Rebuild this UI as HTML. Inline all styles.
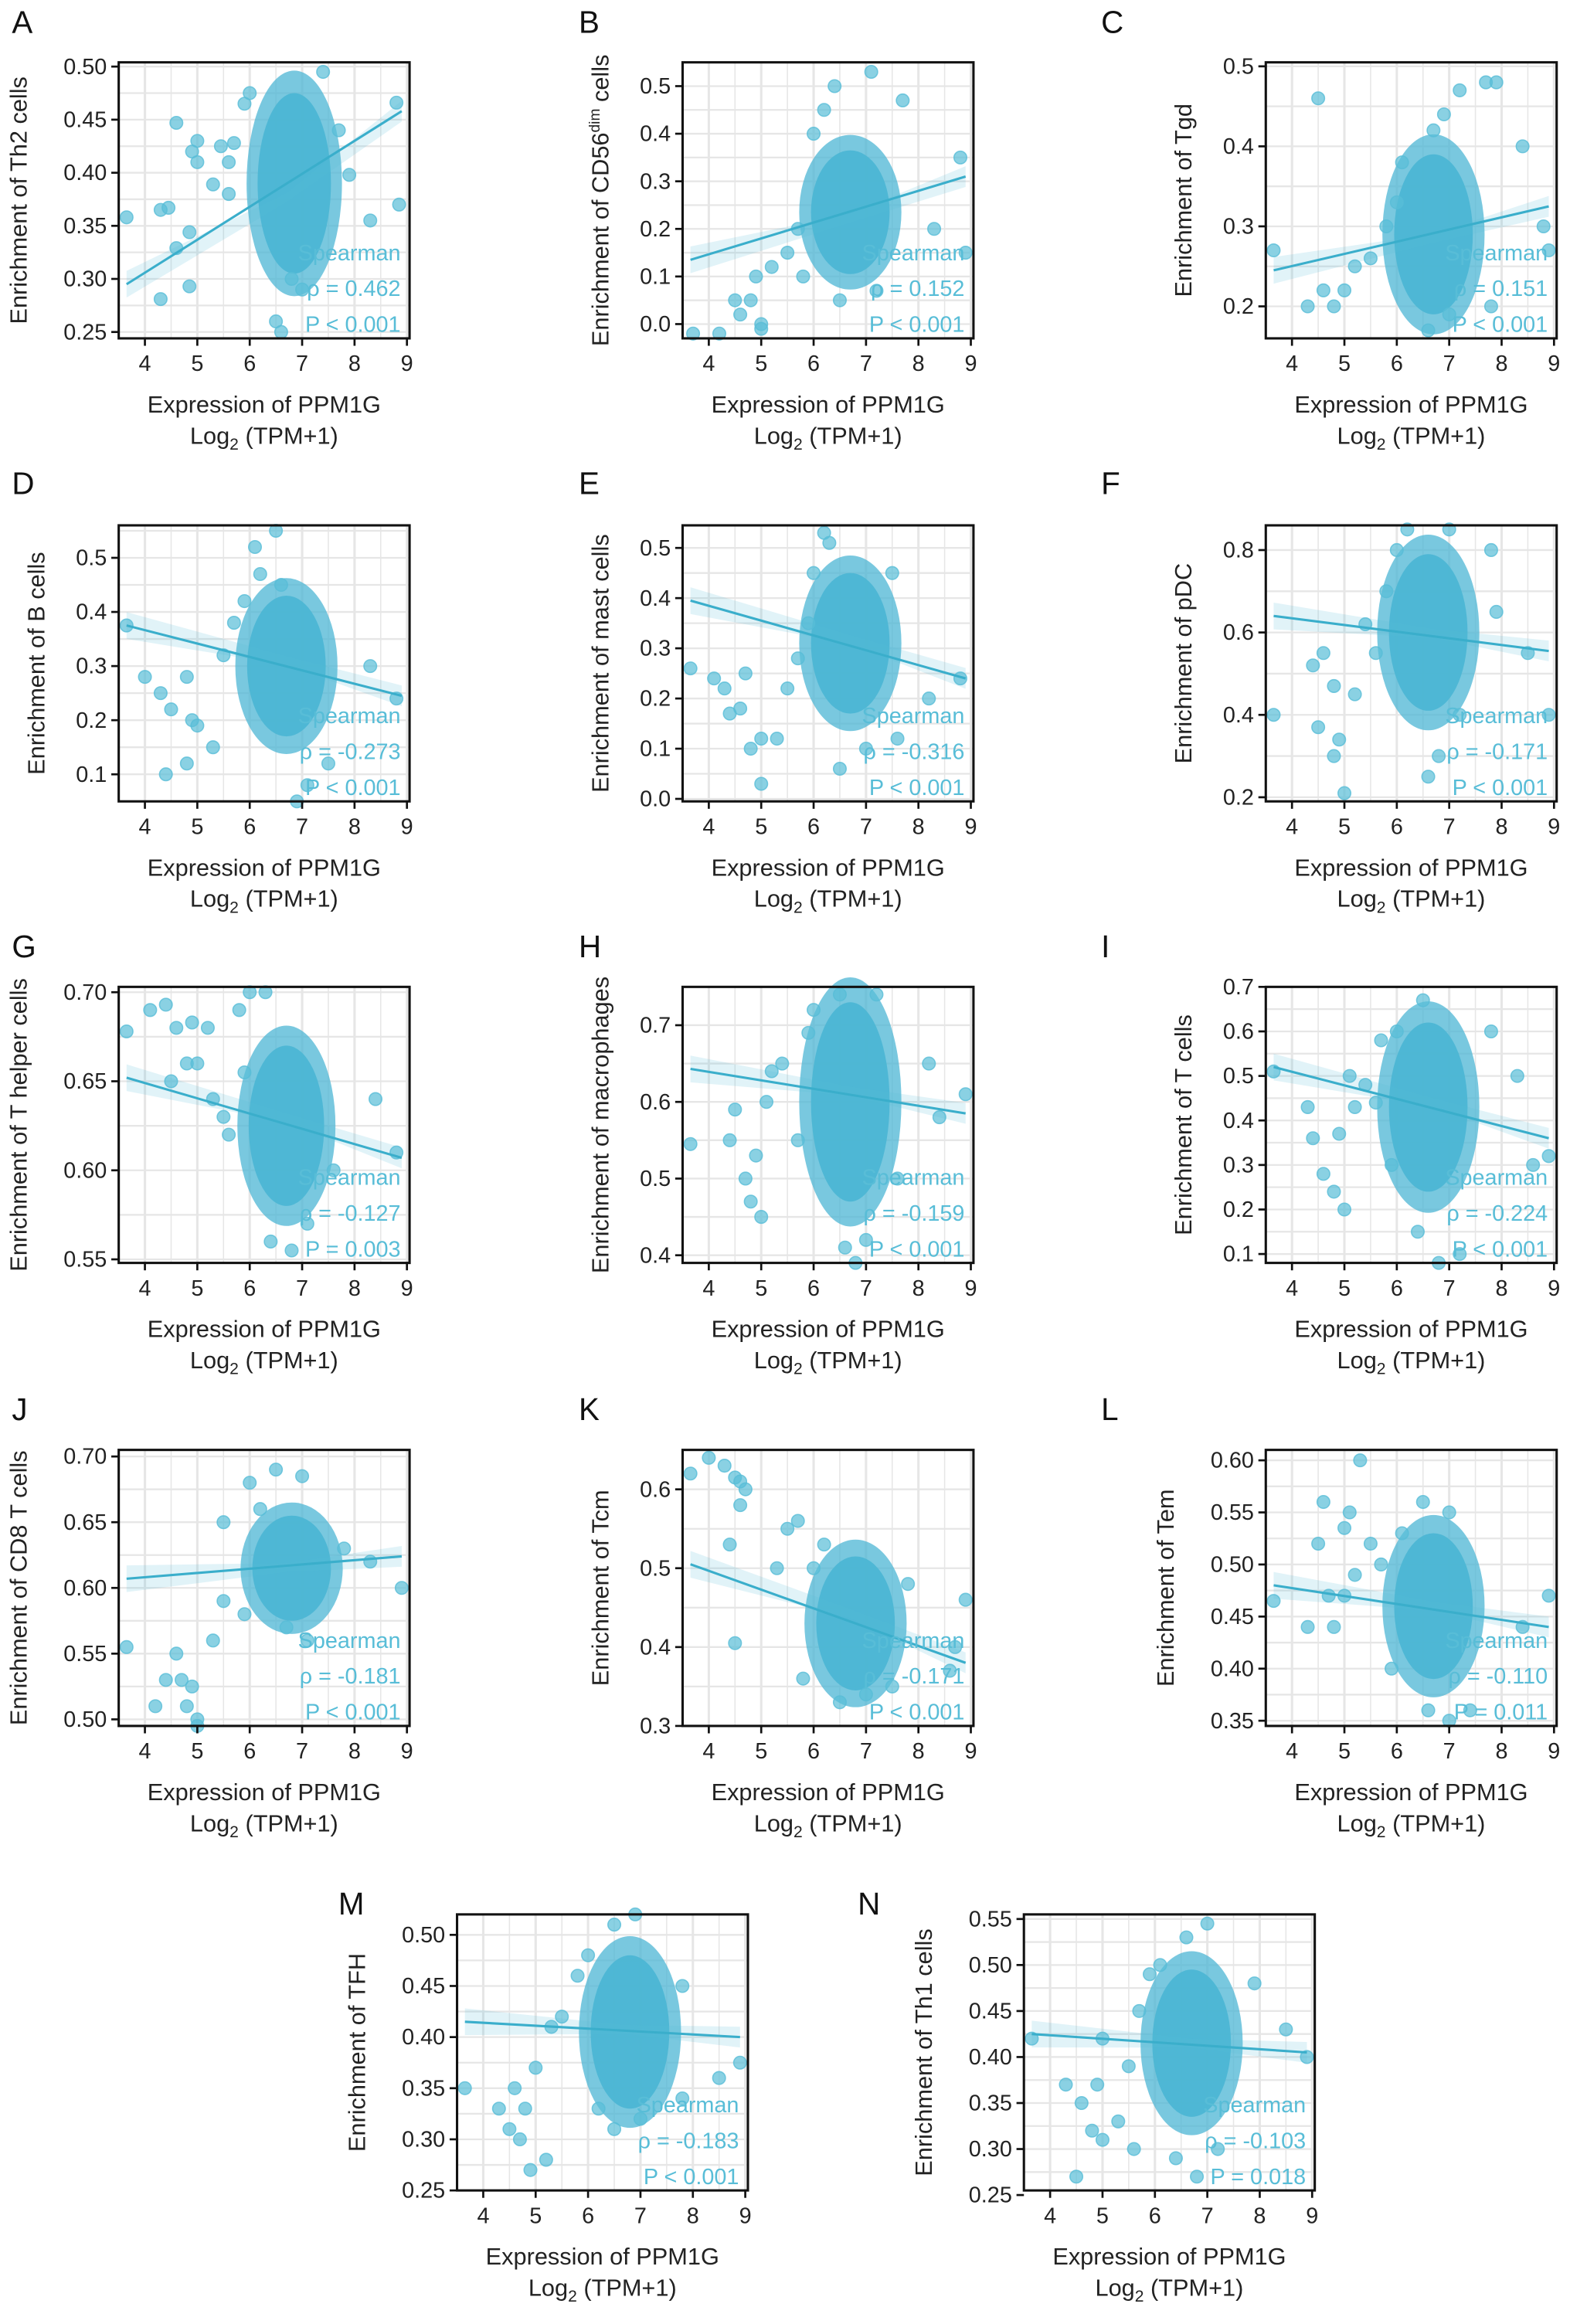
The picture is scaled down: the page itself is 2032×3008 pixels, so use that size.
<!DOCTYPE html>
<html><head><meta charset="utf-8"><style>
html,body{margin:0;padding:0;background:#fff}
svg{display:block}
text{font-family:"Liberation Sans",Arial,sans-serif}
</style></head><body>
<svg id="fig" width="2032" height="3008" viewBox="0 0 1058 1566" preserveAspectRatio="none" xmlns="http://www.w3.org/2000/svg"></svg>
<script>
const panelLetters=["A","B","C","D","E","F","G","H","I","J","K","L","M","N"];
const yTitles=["Enrichment of Th2 cells","Enrichment of CD56dim cells","Enrichment of Tgd","Enrichment of B cells","Enrichment of mast cells","Enrichment of pDC","Enrichment of T helper cells","Enrichment of macrophages","Enrichment of T cells","Enrichment of CD8 T cells","Enrichment of Tcm","Enrichment of Tem","Enrichment of TFH","Enrichment of Th1 cells"];
const rhoLabels=["ρ = 0.462","ρ = 0.152","ρ = 0.151","ρ = -0.273","ρ = -0.316","ρ = -0.171","ρ = -0.127","ρ = -0.159","ρ = -0.224","ρ = -0.181","ρ = -0.171","ρ = -0.110","ρ = -0.183","ρ = -0.103"];
const pLabels=["P < 0.001","P < 0.001","P < 0.001","P < 0.001","P < 0.001","P < 0.001","P = 0.003","P < 0.001","P < 0.001","P < 0.001","P < 0.001","P = 0.011","P < 0.001","P = 0.018"];
const xTicks=[4,5,6,7,8,9];
const yDomains=[[0.244,0.504],[-0.03,0.55],[0.16,0.505],[0.05,0.56],[-0.005,0.545],[0.19,0.86],[0.548,0.703],[0.39,0.75],[0.08,0.7],[0.495,0.705],[0.3,0.65],[0.345,0.61],[0.25,0.52],[0.255,0.555]];
const yTickSets=[
["0.25","0.30","0.35","0.40","0.45","0.50"],["0.0","0.1","0.2","0.3","0.4","0.5"],["0.2","0.3","0.4","0.5"],
["0.1","0.2","0.3","0.4","0.5"],["0.0","0.1","0.2","0.3","0.4","0.5"],["0.2","0.4","0.6","0.8"],
["0.55","0.60","0.65","0.70"],["0.4","0.5","0.6","0.7"],["0.1","0.2","0.3","0.4","0.5","0.6","0.7"],
["0.50","0.55","0.60","0.65","0.70"],["0.3","0.4","0.5","0.6"],["0.35","0.40","0.45","0.50","0.55","0.60"],
["0.25","0.30","0.35","0.40","0.45","0.50"],["0.25","0.30","0.35","0.40","0.45","0.50","0.55"]];
const fitStart=[0.295,0.135,0.245,0.375,0.395,0.64,0.652,0.643,0.52,0.607,0.505,0.48,0.415,0.425];
const fitEnd=[0.458,0.31,0.325,0.245,0.24,0.555,0.607,0.585,0.36,0.624,0.38,0.44,0.40,0.405];
const clouds=[[6.85,0.39,0.7,0.085],[6.7,0.235,0.75,0.13],[6.7,0.29,0.75,0.1],[6.7,0.3,0.75,0.13],[6.7,0.31,0.75,0.14],[6.6,0.6,0.75,0.19],[6.7,0.625,0.72,0.045],[6.7,0.6,0.75,0.13],[6.6,0.43,0.75,0.19],[6.8,0.615,0.75,0.04],[6.8,0.43,0.75,0.085],[6.7,0.46,0.75,0.07],[6.8,0.405,0.75,0.075],[6.7,0.415,0.75,0.08]];
const points=[
[[3.65,.358],[4.3,.365],[4.45,.367],[4.3,.281],[4.6,.447],[4.85,.293],[4.6,.329],[4.85,.344],[4.9,.42],[5.0,.41],[5.0,.43],[5.3,.389],[5.45,.425],[5.6,.41],[5.7,.428],[5.6,.38],[5.9,.465],[6.0,.475],[8.3,.355],[8.85,.37],[8.8,.466],[7.9,.398],[6.5,.26],[6.6,.25],[7.4,.495],[6.8,.3],[7.0,.29],[7.7,.44]],
[[3.7,-.02],[4.2,-.02],[4.5,.05],[4.6,.02],[4.8,.05],[5.0,0],[5.0,-.01],[4.9,.1],[5.2,.12],[5.5,.15],[5.7,.2],[6.0,.4],[6.2,.45],[7.1,.53],[6.4,.5],[7.7,.47],[8.8,.35],[8.9,.15],[8.3,.2],[6.5,.05],[7.2,.07],[5.8,.1]],
[[3.65,.27],[4.5,.46],[4.3,.2],[4.6,.22],[4.8,.2],[5.0,.22],[5.2,.25],[5.5,.26],[5.8,.3],[6.0,.33],[6.1,.38],[6.7,.42],[7.2,.47],[7.7,.48],[7.9,.48],[6.9,.44],[8.8,.3],[8.9,.27],[6.6,.17],[7.0,.19],[7.8,.2],[8.4,.4]],
[[3.65,.375],[4.0,.28],[4.3,.25],[4.5,.22],[4.8,.28],[4.9,.2],[5.0,.19],[5.3,.15],[4.4,.1],[4.8,.12],[5.5,.32],[5.7,.38],[5.9,.42],[6.1,.52],[6.2,.47],[6.5,.55],[8.8,.24],[8.3,.3],[7.1,.08],[6.9,.05],[7.5,.12],[6.6,.45]],
[[3.65,.26],[4.1,.24],[4.3,.22],[4.4,.17],[4.6,.18],[4.8,.1],[5.0,.12],[5.0,.03],[5.3,.12],[4.7,.25],[5.5,.22],[5.7,.28],[5.9,.35],[6.0,.45],[6.2,.53],[6.3,.51],[8.8,.24],[6.5,.06],[7.0,.1],[7.6,.12],[8.2,.2],[7.5,.45]],
[[3.65,.4],[4.4,.52],[4.5,.37],[4.6,.55],[4.8,.3],[4.8,.47],[5.0,.21],[4.9,.34],[5.2,.45],[5.6,.55],[5.8,.7],[6.0,.8],[6.2,.85],[7.0,.85],[7.8,.8],[8.5,.55],[8.9,.4],[6.8,.3],[7.2,.4],[6.6,.25],[5.4,.62],[7.9,.65]],
[[3.65,.678],[4.1,.69],[4.4,.693],[4.6,.68],[4.8,.66],[4.9,.683],[5.0,.66],[5.2,.68],[4.5,.65],[5.3,.64],[5.5,.63],[5.8,.69],[6.0,.7],[6.3,.7],[8.8,.61],[8.4,.64],[6.4,.56],[6.8,.555],[7.1,.57],[5.6,.62],[7.6,.6],[5.9,.655]],
[[3.65,.545],[4.4,.55],[4.5,.59],[4.7,.5],[4.8,.47],[4.9,.53],[5.0,.45],[5.1,.6],[5.2,.64],[5.4,.65],[5.7,.55],[5.9,.69],[6.0,.72],[6.5,.74],[7.2,.74],[8.4,.58],[8.9,.61],[8.2,.65],[6.6,.41],[7.0,.42],[6.8,.39],[7.6,.5]],
[[3.65,.51],[4.3,.43],[4.4,.36],[4.6,.28],[4.8,.24],[4.9,.37],[5.0,.2],[5.1,.5],[5.2,.43],[5.4,.48],[5.6,.44],[5.7,.58],[6.0,.6],[6.5,.67],[8.6,.3],[8.9,.32],[8.3,.5],[6.8,.08],[7.2,.1],[6.4,.15],[5.9,.3],[7.8,.6]],
[[3.65,.555],[4.2,.51],[4.4,.53],[4.6,.55],[4.7,.53],[4.8,.51],[5.0,.495],[5.0,.5],[4.9,.525],[5.3,.56],[5.5,.59],[5.5,.65],[6.0,.68],[6.5,.69],[7.0,.685],[8.9,.6],[8.3,.62],[6.7,.57],[7.1,.56],[5.9,.58],[7.8,.63],[6.2,.66]],
[[3.65,.62],[4.0,.64],[4.3,.63],[4.5,.615],[4.6,.61],[4.7,.6],[4.6,.58],[4.4,.53],[4.5,.405],[5.3,.5],[5.5,.55],[5.7,.56],[6.0,.5],[8.9,.46],[8.7,.4],[8.6,.37],[6.5,.33],[7.0,.34],[7.5,.35],[5.8,.36],[6.2,.53],[7.8,.48]],
[[3.65,.465],[4.3,.44],[4.5,.52],[4.6,.56],[4.7,.47],[4.8,.44],[5.0,.535],[5.1,.55],[5.2,.49],[5.3,.6],[5.0,.47],[5.5,.52],[5.7,.5],[6.1,.53],[7.0,.55],[8.9,.47],[8.4,.44],[6.6,.36],[7.0,.35],[7.4,.36],[5.9,.4],[6.5,.56]],
[[3.65,.35],[4.3,.33],[4.5,.31],[4.6,.35],[4.7,.3],[4.8,.33],[4.9,.27],[5.0,.37],[5.2,.28],[5.3,.41],[5.5,.42],[5.8,.46],[6.0,.48],[6.5,.51],[6.9,.52],[8.9,.375],[8.5,.36],[6.5,.31],[7.0,.32],[7.8,.34],[6.2,.33],[7.8,.45]],
[[3.65,.42],[4.3,.37],[4.5,.27],[4.6,.35],[4.8,.32],[4.9,.37],[5.0,.31],[5.0,.42],[5.3,.33],[5.6,.3],[5.7,.45],[5.9,.49],[6.1,.5],[6.6,.53],[7.0,.545],[8.9,.4],[8.5,.43],[6.8,.27],[6.4,.29],[7.2,.3],[7.9,.48],[5.5,.39]]];

const boxes=[[80,42],[460,42],[853,42],[80,354],[460,354],[853,354],[80,665],[460,665],[853,665],[80,977],[460,977],[853,977],[308,1290],[690,1290]];
const letterPos=[[8,22],[390,22],[742,22],[8,333],[390,333],[742,333],[8,645],[390,645],[742,645],[8,957],[390,957],[742,957],[228,1290],[578,1290]];
const BW=196,BH=186,XMIN=3.5,XMAX=9.05,COL="#58bdd7";
const NS="http://www.w3.org/2000/svg";
const svg=document.getElementById("fig");
function mk(tag,attrs,parent){const e=document.createElementNS(NS,tag);for(const k in attrs)e.setAttribute(k,attrs[k]);(parent||svg).appendChild(e);return e;}

for(let i=0;i<14;i++){
  const [bx,by]=boxes[i];
  const g=mk("g",{});
  
  
  const [y0,y1]=yDomains[i];
  const sx=v=>bx+(v-XMIN)/(XMAX-XMIN)*BW;
  const sy=v=>by+BH-(v-y0)/(y1-y0)*BH;
  const lt=mk("text",{x:letterPos[i][0],y:letterPos[i][1],"font-size":21,fill:"#111"},g);
  lt.textContent=panelLetters[i];
  
  
  const yt=yTickSets[i].map(Number);
  const step=yt[1]-yt[0];
  const grid=mk("g",{},g);
  
  
  for(let v=XMIN-0.5;v<=XMAX;v+=0.5){const vv=Math.round(v*2)/2;const x=sx(vv);if(x>bx&&x<bx+BW)mk("line",{x1:x,x2:x,y1:by,y2:by+BH,stroke:"#e6e6e6","stroke-width":Number.isInteger(vv)?1.6:0.8},grid);}
  for(let v=yt[0]-step;v<=y1+step;v+=step/2){const y=sy(v);if(y>by&&y<by+BH)mk("line",{x1:bx,x2:bx+BW,y1:y,y2:y,stroke:"#e6e6e6","stroke-width":1.2},grid);}
  const c=clouds[i];
  const rx=c[2]/(XMAX-XMIN)*BW, ry=c[3]/(y1-y0)*BH;
  const halo=mk("ellipse",{cx:sx(c[0]),cy:sy(c[1]),rx:rx*1.3,ry:ry*1.25,fill:"#4cb6d4",opacity:0.75},g);
  
  
  const cl=mk("ellipse",{cx:sx(c[0]),cy:sy(c[1]),rx:rx,ry:ry,fill:"#4cb6d4",opacity:0.95},g);
  
  
  for(const p of points[i]){
    const pt=mk("circle",{cx:sx(p[0]),cy:sy(p[1]),r:4.3,fill:COL,"fill-opacity":0.7,stroke:COL,"stroke-opacity":0.8,"stroke-width":0.8},g);
    
    
  }
  const xa=3.65,xb=8.9;
  const band=mk("polygon",{points:`${sx(xa)},${sy(fitStart[i])-9} ${sx(6.7)},${sy((fitStart[i]+fitEnd[i])/2)-3} ${sx(xb)},${sy(fitEnd[i])-7} ${sx(xb)},${sy(fitEnd[i])+7} ${sx(6.7)},${sy((fitStart[i]+fitEnd[i])/2)+3} ${sx(xa)},${sy(fitStart[i])+9}`,fill:COL,opacity:0.18},g);
  
  
  const fl=mk("line",{x1:sx(xa),y1:sy(fitStart[i]),x2:sx(xb),y2:sy(fitEnd[i]),stroke:"#3aaecb","stroke-width":1.6},g);
  
  
  const bxr=mk("rect",{x:bx,y:by,width:BW,height:BH,fill:"none",stroke:"#111","stroke-width":1.6},g);
  
  
  const ann=[["Spearman",0.69],[rhoLabels[i],0.82],[pLabels[i],0.95]];
  for(const [t,f] of ann){
    const a=mk("text",{x:bx+BW-6,y:by+BH*f+5,"font-size":15,fill:COL,"text-anchor":"end"},g);
    a.textContent=t;
    
    
  }
  for(const v of xTicks){
    const x=sx(v);
    mk("line",{x1:x,x2:x,y1:by+BH,y2:by+BH+5,stroke:"#111","stroke-width":1.4},g);
    const t=mk("text",{x:x,y:by+BH+22,"font-size":15,fill:"#222","text-anchor":"middle"},g);
    t.textContent=v;
    
    
  }
  for(const s of yTickSets[i]){
    const y=sy(Number(s));
    mk("line",{x1:bx-5,x2:bx,y1:y,y2:y,stroke:"#111","stroke-width":1.4},g);
    const t=mk("text",{x:bx-8,y:y+5,"font-size":15,fill:"#222","text-anchor":"end"},g);
    t.textContent=s;
    
    
  }
  const cx=bx+BW/2;
  const xt=mk("text",{x:cx,y:by+BH+50,"font-size":16,fill:"#222","text-anchor":"middle"},g);
  xt.textContent="Expression of PPM1G";
  
  
  const xt2=mk("text",{x:cx,y:by+BH+71,"font-size":16,fill:"#222","text-anchor":"middle"},g);
  xt2.innerHTML='Log<tspan font-size="11" dy="4">2</tspan><tspan dy="-4"> (TPM+1)</tspan>';
  
  
  const tx=bx-(yTickSets[i][0].length>3?62:50);
  const ytl=mk("text",{x:tx,y:by+BH/2,"font-size":16,fill:"#222","text-anchor":"middle",transform:`rotate(-90 ${tx} ${by+BH/2})`},g);
  if(i===1){ytl.innerHTML='Enrichment of CD56<tspan font-size="10" dy="-6">dim</tspan><tspan dy="6"> cells</tspan>';}
  else ytl.textContent=yTitles[i];
  
  
}
</script>
</body></html>
